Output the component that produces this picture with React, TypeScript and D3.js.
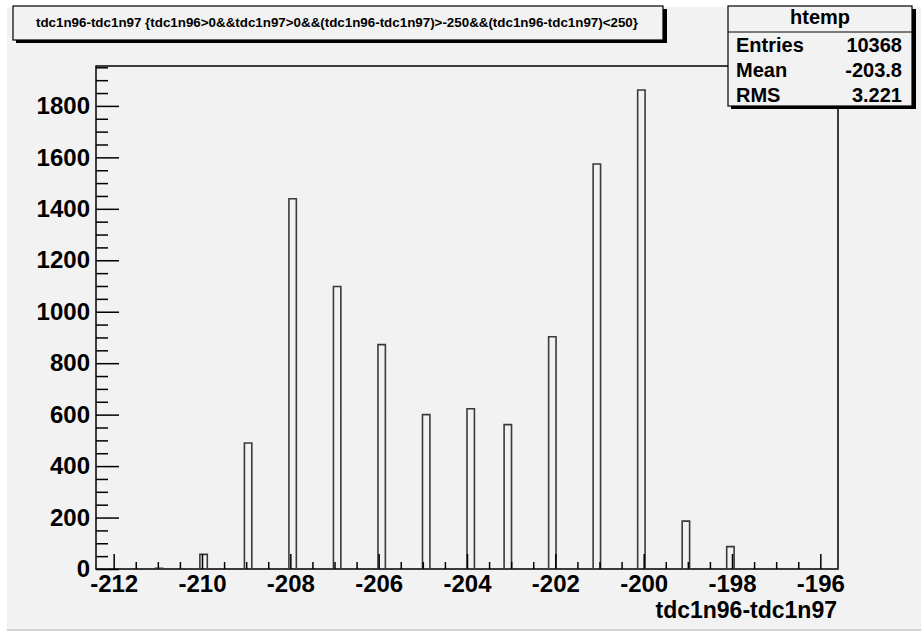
import React, { useEffect, useRef } from 'react';
import * as d3 from 'd3';

// histogram htemp: tdc1n96-tdc1n97, 100 bins
const xMin = -212.4;
const xMax = -195.6;
const nBins = 100;

const values = [-211, -210, -209, -208, -207, -206, -205, -204, -203, -202, -201, -200, -199, -198];
const counts = [3, 57, 490, 1439, 1098, 872, 600, 623, 561, 903, 1574, 1862, 186, 87];

const xMajor = [-212, -210, -208, -206, -204, -202, -200, -198, -196];
const yMajor = [0, 200, 400, 600, 800, 1000, 1200, 1400, 1600, 1800];

const titleText = 'tdc1n96-tdc1n97 {tdc1n96>0&&tdc1n97>0&&(tdc1n96-tdc1n97)>-250&&(tdc1n96-tdc1n97)<250}';
const statName = 'htemp';
const statLabels = ['Entries', 'Mean', 'RMS'];
const statValues = ['10368', '-203.8', '3.221'];
const xTitle = 'tdc1n96-tdc1n97';

const W = 921;
const H = 631;
const frame = { left: 96, top: 66, right: 838, bottom: 569 };
const font = '"Liberation Sans", Arial, Helvetica, sans-serif';

export default function App() {
  const ref = useRef<SVGGElement | null>(null);

  useEffect(() => {
    const g = d3.select(ref.current);
    g.selectAll('*').remove();

    const binW = (xMax - xMin) / nBins;
    const bins = new Array(nBins).fill(0);
    values.forEach((v, i) => {
      const idx = Math.floor((v - xMin) / binW);
      bins[idx] += counts[i];
    });

    const x = d3.scaleLinear().domain([xMin, xMax]).range([frame.left, frame.right]);
    const y = d3.scaleLinear().domain([0, 1.05 * d3.max(bins)!]).range([frame.bottom, frame.top]);

    const pts: [number, number][] = bins.map((c, i) => [xMin + i * binW, c]);
    pts.push([xMax, bins[nBins - 1]]);

    const outline = d3.line<[number, number]>()
      .x(d => x(d[0]))
      .y(d => y(d[1]))
      .curve(d3.curveStepAfter);

    g.append('path')
      .attr('d', outline(pts))
      .attr('fill', 'none')
      .attr('stroke', '#3a3a3a')
      .attr('stroke-width', 1.6);

    const plain = (d: d3.NumberValue) => String(d);

    // x axis ticks (inward)
    const xMinor = d3.range(-212, -195.6, 0.5).filter(v => !xMajor.includes(v));
    g.append('g')
      .attr('transform', `translate(0,${frame.bottom})`)
      .call(d3.axisBottom(x).tickValues(xMinor).tickSize(-7).tickFormat(() => ''))
      .call(s => s.select('.domain').remove());
    g.append('g')
      .attr('transform', `translate(0,${frame.bottom})`)
      .call(d3.axisBottom(x).tickValues(xMajor).tickSize(-15).tickPadding(6).tickFormat(plain))
      .call(s => s.select('.domain').remove())
      .call(s => s.selectAll('text')
        .attr('font-family', font).attr('font-weight', 'bold').attr('font-size', 24).attr('fill', '#000'));

    // y axis ticks (inward)
    const yMinor = d3.range(50, 1955, 50).filter(v => !yMajor.includes(v));
    g.append('g')
      .attr('transform', `translate(${frame.left},0)`)
      .call(d3.axisLeft(y).tickValues(yMinor).tickSize(-12).tickFormat(() => ''))
      .call(s => s.select('.domain').remove());
    g.append('g')
      .attr('transform', `translate(${frame.left},0)`)
      .call(d3.axisLeft(y).tickValues(yMajor).tickSize(-23).tickPadding(6).tickFormat(plain))
      .call(s => s.select('.domain').remove())
      .call(s => s.selectAll('text')
        .attr('font-family', font).attr('font-weight', 'bold').attr('font-size', 24).attr('fill', '#000'));

    g.selectAll('.tick line').attr('stroke', '#000').attr('stroke-width', 1.5);
  }, []);

  return (
    <svg width={W} height={H} style={{ position: 'absolute', left: 0, top: 0 }}>
      <rect x={0} y={0} width={W} height={H} fill="#ffffff" />
      <rect x={7} y={7} width={W - 7} height={623} fill="#f2f2f2" />
      <line x1={7} x2={W} y1={630} y2={630} stroke="#c8c8c8" strokeWidth={1.5} />

      {/* frame */}
      <rect x={frame.left} y={frame.top} width={frame.right - frame.left} height={frame.bottom - frame.top}
        fill="none" stroke="#000" strokeWidth={1.5} />
      <g ref={ref} />

      {/* title box */}
      <rect x={16} y={9} width={651} height={34} fill="#000" />
      <rect x={13} y={6} width={650} height={34} fill="#f2f2f2" stroke="#000" strokeWidth={1.2} />
      <text x={337} y={27} textAnchor="middle" fontFamily={font} fontWeight="bold" fontSize={12}
        textLength={602} lengthAdjust="spacingAndGlyphs">{titleText}</text>

      {/* stats box */}
      <rect x={731} y={9} width={185} height={100} fill="#000" />
      <rect x={728} y={6} width={184} height={100} fill="#f2f2f2" stroke="#000" strokeWidth={1.2} />
      <line x1={728} x2={912} y1={32} y2={32} stroke="#000" strokeWidth={1.2} />
      <text x={820} y={24} textAnchor="middle" fontFamily={font} fontWeight="bold" fontSize={20}>{statName}</text>
      {statLabels.map((l, i) => (
        <g key={l}>
          <text x={736} y={52 + i * 25} fontFamily={font} fontWeight="bold" fontSize={20}>{l}</text>
          <text x={902} y={52 + i * 25} textAnchor="end" fontFamily={font} fontWeight="bold" fontSize={20}>{statValues[i]}</text>
        </g>
      ))}

      {/* x title */}
      <text x={837} y={618} textAnchor="end" fontFamily={font} fontWeight="bold" fontSize={23}>{xTitle}</text>
    </svg>
  );
}
